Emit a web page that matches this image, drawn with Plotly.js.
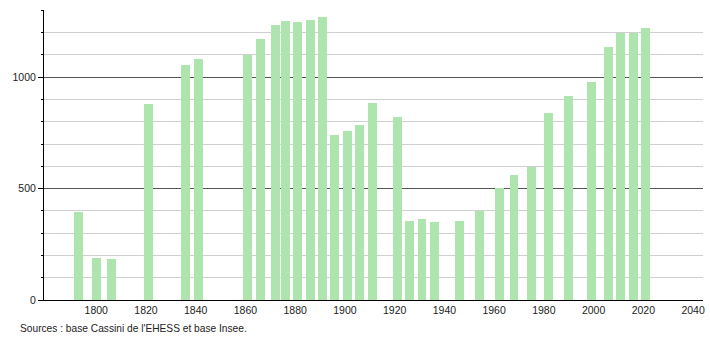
<!DOCTYPE html>
<html>
<head>
<meta charset="utf-8">
<script src="https://cdn.plot.ly/plotly-3.0.1.min.js"></script>
<style>html,body{margin:0;padding:0;background:#fff;}#chart{width:710px;height:340px;}</style>
</head>
<body>
<div id="chart"></div>
<script>
const years = [1793, 1800, 1806, 1821, 1836, 1841, 1861, 1866, 1872, 1876, 1881, 1886, 1891, 1896, 1901, 1906, 1911, 1921, 1926, 1931, 1936, 1946, 1954, 1962, 1968, 1975, 1982, 1990, 1999, 2006, 2011, 2016, 2021];
const population = [393, 190, 186, 878, 1054, 1084, 1102, 1171, 1234, 1252, 1248, 1258, 1270, 743, 761, 784, 883, 820, 356, 365, 351, 356, 400, 503, 563, 596, 841, 914, 977, 1135, 1200, 1200, 1221];
const xTickVals = [1800, 1820, 1840, 1860, 1880, 1900, 1920, 1940, 1960, 1980, 2000, 2020, 2040];
const sourceText = "Sources : base Cassini de l'EHESS et base Insee.";

const trace = {
  type: 'bar',
  x: years,
  y: population,
  width: 3.6,
  marker: {color: 'rgb(174,228,174)', line: {width: 0}},
  hoverinfo: 'x+y'
};

const layout = {
  width: 710, height: 340,
  margin: {l: 44, r: 7, t: 10, b: 40},
  paper_bgcolor: '#fff', plot_bgcolor: '#fff',
  font: {family: 'Liberation Sans, Arial, sans-serif', size: 10.5, color: '#222'},
  showlegend: false,
  bargap: 0,
  xaxis: {
    range: [1779, 2044],
    tickvals: xTickVals,
    ticktext: xTickVals.map(String),
    ticks: '',
    showgrid: false,
    zeroline: false,
    showline: true, linecolor: '#000', linewidth: 1,
    tickfont: {size: 10.5, color: '#222'},
    fixedrange: true
  },
  yaxis: {
    range: [0, 1302],
    tickvals: [0, 500, 1000],
    ticks: 'outside', ticklen: 5, tickcolor: '#000', tickwidth: 1,
    showgrid: true, gridcolor: '#555', gridwidth: 1,
    zeroline: false,
    showline: true, linecolor: '#000', linewidth: 1,
    tickfont: {size: 10.5, color: '#222'},
    minor: {dtick: 100, tick0: 0, showgrid: true, gridcolor: '#cfcfcf', gridwidth: 1, ticks: 'outside', ticklen: 2, tickcolor: '#000'},
    fixedrange: true
  },
  annotations: [{
    text: sourceText,
    xref: 'paper', yref: 'paper',
    x: -0.0395, y: 0, xanchor: 'left', yanchor: 'middle', yshift: -28,
    showarrow: false,
    font: {size: 10.2, color: '#222'}
  }]
};

Plotly.newPlot('chart', [trace], layout, {displayModeBar: false, staticPlot: true});
</script>
</body>
</html>
